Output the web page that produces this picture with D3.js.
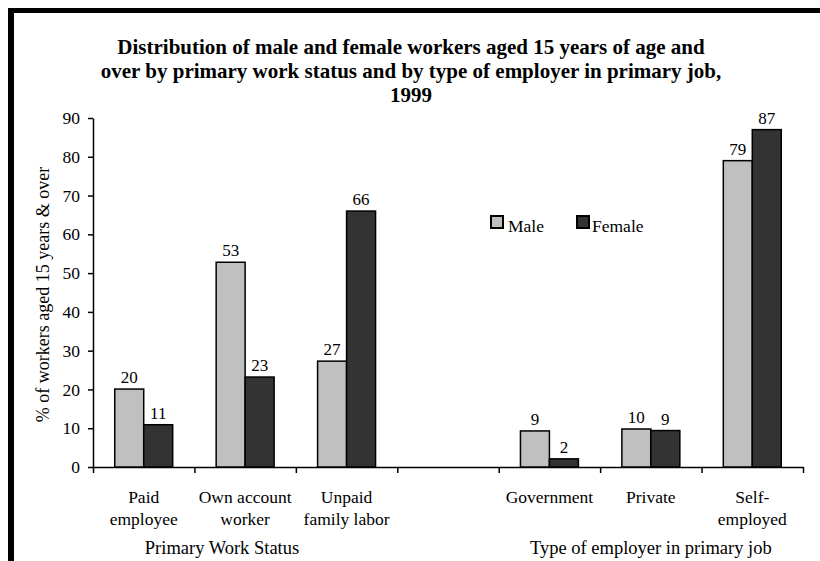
<!DOCTYPE html>
<html>
<head>
<meta charset="utf-8">
<script src="https://cdn.jsdelivr.net/npm/d3@7"></script>
<style>
  body { margin: 0; background: #fff; }
  svg { display: block; font-family: "Liberation Serif", "Times New Roman", serif; }
</style>
</head>
<body>
<div id="chart"></div>
<script>
// Chart data
const categories = ['Paid employee', 'Own account worker', 'Unpaid family labor', 'gap', 'Government', 'Private', 'Self-employed'];
const categoryLines = [['Paid', 'employee'], ['Own account', 'worker'], ['Unpaid', 'family labor'], [], ['Government'], ['Private'], ['Self-', 'employed']];
const series = ['Male', 'Female'];
const maleValues = [20.1, 52.8, 27.3, null, 9.3, 9.8, 79.0];
const femaleValues = [10.9, 23.2, 66.0, null, 2.1, 9.4, 87.0];
const yTicks = [0, 10, 20, 30, 40, 50, 60, 70, 80, 90];
const groupTitles = [
    { label: 'Primary Work Status', from: 0, to: 3 },
    { label: 'Type of employer in primary job', from: 4, to: 7 }
];
const titleLines = [
    'Distribution of male and female workers aged 15 years of age and',
    'over by primary work status and by type of employer in primary job,',
    '1999'
];
const colors = { Male: '#c0c0c0', Female: '#333333' };

const width = 820, height = 561;
const plot = { left: 93, right: 803, top: 118, bottom: 467 };

const svg = d3.select('#chart').append('svg')
    .attr('width', width)
    .attr('height', height);

// Frame (thick top and left edges)
svg.append('rect').attr('x', 8).attr('y', 8).attr('width', width - 8).attr('height', 5).attr('fill', '#000');
svg.append('rect').attr('x', 8).attr('y', 8).attr('width', 6).attr('height', height - 8).attr('fill', '#000');

// Title
svg.append('g')
    .selectAll('text')
    .data(titleLines)
    .enter()
    .append('text')
    .attr('x', 411)
    .attr('y', (d, i) => 54 + i * 24)
    .attr('text-anchor', 'middle')
    .style('font-size', '21px')
    .style('font-weight', 'bold')
    .text(d => d);

// Scales
const x = d3.scaleBand()
    .domain(categories)
    .range([plot.left, plot.right])
    .paddingInner(0)
    .paddingOuter(0);

const xSeries = d3.scaleBand()
    .domain(series)
    .range([0, x.bandwidth()])
    .paddingInner(0)
    .paddingOuter(0.75);

const y = d3.scaleLinear()
    .domain([0, 90])
    .range([plot.bottom, plot.top]);

// Y axis
const yAxis = svg.append('g')
    .attr('transform', `translate(${plot.left},0)`)
    .call(d3.axisLeft(y).tickValues(yTicks).tickSize(5).tickSizeOuter(0).tickPadding(8));
yAxis.select('.domain').attr('stroke', '#000').attr('stroke-width', 1.5);
yAxis.selectAll('.tick line').attr('stroke', '#000').attr('stroke-width', 1.5);
yAxis.selectAll('text')
    .style('font-family', '"Liberation Serif", serif')
    .style('font-size', '17.5px')
    .attr('fill', '#000');

// X axis: ticks at band boundaries
const xIndex = d3.scaleLinear().domain([0, categories.length]).range([plot.left, plot.right]);
const xAxis = svg.append('g')
    .attr('transform', `translate(0,${plot.bottom})`)
    .call(d3.axisBottom(xIndex).ticks(categories.length).tickSize(6).tickSizeOuter(0).tickFormat(''));
xAxis.select('.domain').attr('stroke', '#000').attr('stroke-width', 1.5);
xAxis.selectAll('.tick line').attr('stroke', '#000').attr('stroke-width', 1.5);

// Y axis title
svg.append('text')
    .attr('transform', `translate(49,${(plot.top + plot.bottom) / 2 + 2}) rotate(-90)`)
    .attr('text-anchor', 'middle')
    .style('font-size', '18px')
    .text('% of workers aged 15 years & over');

// Bars
const rows = [];
categories.forEach((c, i) => {
    if (maleValues[i] == null) return;
    rows.push({ cat: c, key: 'Male', value: maleValues[i] });
    rows.push({ cat: c, key: 'Female', value: femaleValues[i] });
});

const bars = svg.append('g').attr('class', 'bars');
bars.selectAll('rect')
    .data(rows)
    .enter()
    .append('rect')
    .attr('x', d => x(d.cat) + xSeries(d.key))
    .attr('y', d => y(d.value))
    .attr('width', xSeries.bandwidth())
    .attr('height', d => y(0) - y(d.value))
    .attr('fill', d => colors[d.key])
    .attr('stroke', '#000')
    .attr('stroke-width', 1.5);

// Value labels
bars.selectAll('text')
    .data(rows)
    .enter()
    .append('text')
    .attr('x', d => x(d.cat) + xSeries(d.key) + xSeries.bandwidth() / 2)
    .attr('y', d => y(d.value) - 6)
    .attr('text-anchor', 'middle')
    .style('font-size', '17px')
    .text(d => d3.format('.0f')(d.value));

// Category labels
const catLabels = svg.append('g');
categories.forEach((c, i) => {
    catLabels.append('text')
        .attr('x', x(c) + x.bandwidth() / 2)
        .attr('text-anchor', 'middle')
        .style('font-size', '17.5px')
        .selectAll('tspan')
        .data(categoryLines[i])
        .enter()
        .append('tspan')
        .attr('x', x(c) + x.bandwidth() / 2)
        .attr('y', (d, j) => 503 + j * 22)
        .text(d => d);
});

// Group titles
svg.append('g')
    .selectAll('text')
    .data(groupTitles)
    .enter()
    .append('text')
    .attr('x', (d, i) => i === 0 ? 222 : (xIndex(d.from) + xIndex(d.to)) / 2)
    .attr('y', 554)
    .attr('text-anchor', 'middle')
    .style('font-size', '18.5px')
    .text(d => d.label);

// Legend
const legend = svg.append('g')
    .attr('class', 'legend')
    .attr('transform', 'translate(491,216)');

const legendItems = legend.selectAll('.legend-item')
    .data(series)
    .enter()
    .append('g')
    .attr('class', 'legend-item')
    .attr('transform', (d, i) => `translate(${i * 86},0)`);

legendItems.append('rect')
    .attr('width', 12)
    .attr('height', 12)
    .attr('fill', d => colors[d])
    .attr('stroke', '#000')
    .attr('stroke-width', 2);

legendItems.append('text')
    .attr('x', d => d === 'Male' ? 17 : 15)
    .attr('y', 16)
    .style('font-size', '17.5px')
    .text(d => d);
</script>
</body>
</html>
